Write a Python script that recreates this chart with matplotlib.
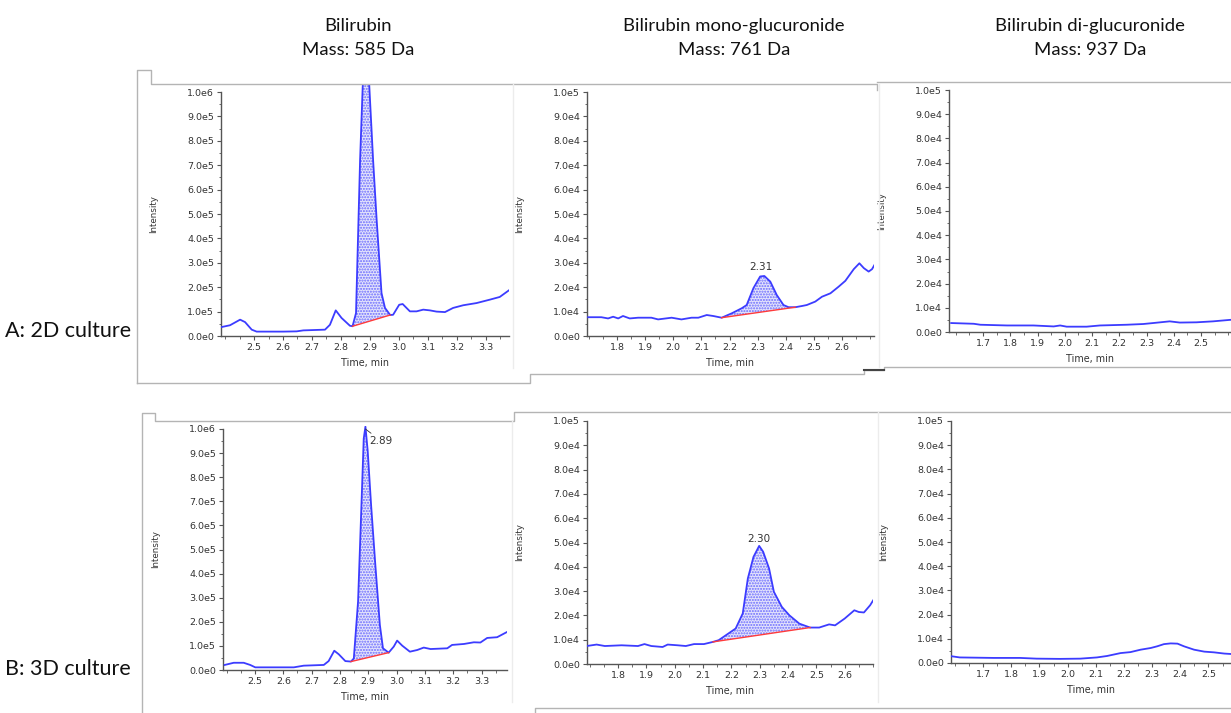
import math
import numpy as np
import matplotlib
matplotlib.use('Agg')
import matplotlib.pyplot as plt
from matplotlib.lines import Line2D
from matplotlib.ticker import FuncFormatter, MultipleLocator

FIG_W, FIG_H = 1231, 713

compound_names = ['Bilirubin', 'Bilirubin mono-glucuronide', 'Bilirubin di-glucuronide']
compound_masses = ['Mass: 585 Da', 'Mass: 761 Da', 'Mass: 937 Da']
conditions = ['A: 2D culture', 'B: 3D culture']

# --- A: 2D culture, bilirubin (intensity in 1e5) ---
a1_time = [2.385, 2.417, 2.452, 2.469, 2.492, 2.509, 2.55, 2.60, 2.647, 2.67, 2.745,
           2.762, 2.782, 2.802, 2.831, 2.840, 2.852, 2.866, 2.875, 2.888, 2.898, 2.911,
           2.923, 2.940, 2.952, 2.970, 2.980, 3.001, 3.013, 3.038, 3.061, 3.084, 3.107,
           3.13, 3.159, 3.187, 3.222, 3.268, 3.314, 3.348, 3.383]
a1_int = [0.36, 0.44, 0.67, 0.57, 0.26, 0.18, 0.18, 0.18, 0.19, 0.23, 0.26,
          0.46, 1.05, 0.74, 0.42, 0.40, 0.94, 7.2, 10.2, 13.0, 10.2, 7.2,
          4.8, 1.76, 1.15, 0.86, 0.87, 1.28, 1.31, 1.01, 1.01, 1.08, 1.05,
          1.0, 0.98, 1.15, 1.26, 1.35, 1.49, 1.6, 1.9]
a1_base_t = [2.840, 2.970]
a1_base_v = [0.40, 0.86]

# --- B: 3D culture, bilirubin (intensity in 1e5) ---
b1_time = [2.393, 2.425, 2.46, 2.483, 2.501, 2.55, 2.60, 2.637, 2.672, 2.743, 2.76,
           2.78, 2.796, 2.819, 2.839, 2.849, 2.864, 2.876, 2.884, 2.890, 2.898, 2.91,
           2.925, 2.941, 2.952, 2.972, 2.99, 3.002, 3.02, 3.047, 3.073, 3.096, 3.12,
           3.179, 3.196, 3.238, 3.273, 3.296, 3.32, 3.355, 3.397]
b1_int = [0.21, 0.30, 0.30, 0.21, 0.11, 0.11, 0.11, 0.11, 0.18, 0.21, 0.37,
          0.80, 0.65, 0.37, 0.35, 0.48, 2.84, 6.85, 9.6, 10.1, 9.1, 6.85,
          4.36, 1.87, 0.90, 0.72, 0.97, 1.22, 1.01, 0.76, 0.83, 0.93, 0.87,
          0.90, 1.04, 1.08, 1.15, 1.14, 1.33, 1.36, 1.62]
b1_base_t = [2.839, 2.972]
b1_base_v = [0.35, 0.72]

# --- A: 2D culture, mono-glucuronide (intensity in 1e4) ---
a2_time = [1.697, 1.744, 1.768, 1.786, 1.804, 1.821, 1.845, 1.875, 1.922, 1.946, 1.994,
           2.029, 2.065, 2.089, 2.119, 2.142, 2.172, 2.208, 2.244, 2.261, 2.285, 2.309,
           2.324, 2.345, 2.368, 2.392, 2.41, 2.434, 2.458, 2.475, 2.505, 2.529, 2.559,
           2.588, 2.612, 2.642, 2.662, 2.678, 2.695, 2.707, 2.719]
a2_int = [0.77, 0.77, 0.72, 0.79, 0.72, 0.82, 0.72, 0.75, 0.75, 0.68, 0.75,
          0.68, 0.75, 0.75, 0.86, 0.82, 0.75, 0.93, 1.14, 1.27, 1.96, 2.44,
          2.46, 2.23, 1.68, 1.27, 1.18, 1.18, 1.23, 1.27, 1.41, 1.61, 1.75,
          2.02, 2.26, 2.74, 2.98, 2.78, 2.64, 2.74, 2.98]
a2_base_t = [2.172, 2.434]
a2_base_v = [0.75, 1.18]

# --- B: 3D culture, mono-glucuronide (intensity in 1e4) ---
b2_time = [1.689, 1.724, 1.753, 1.812, 1.87, 1.893, 1.917, 1.957, 1.975, 2.01, 2.039,
           2.068, 2.103, 2.135, 2.155, 2.18, 2.215, 2.24, 2.258, 2.278, 2.298, 2.312,
           2.333, 2.35, 2.378, 2.405, 2.44, 2.478, 2.51, 2.545, 2.566, 2.60, 2.634,
           2.65, 2.668, 2.69, 2.706]
b2_int = [0.74, 0.80, 0.74, 0.77, 0.74, 0.82, 0.74, 0.70, 0.80, 0.77, 0.74,
          0.82, 0.82, 0.91, 0.98, 1.18, 1.46, 2.08, 3.52, 4.41, 4.86, 4.62,
          3.93, 2.97, 2.35, 2.0, 1.66, 1.50, 1.50, 1.63, 1.59, 1.87, 2.21,
          2.14, 2.12, 2.42, 2.72]
b2_base_t = [2.135, 2.478]
b2_base_v = [0.91, 1.50]

# --- A: 2D culture, di-glucuronide (intensity in 1e4) ---
a3_time = [1.583, 1.666, 1.69, 1.788, 1.885, 1.959, 1.983, 2.007, 2.08, 2.129,
           2.227, 2.288, 2.324, 2.385, 2.422, 2.483, 2.544, 2.605, 2.62]
a3_int = [0.37, 0.34, 0.30, 0.27, 0.27, 0.23, 0.27, 0.22, 0.22, 0.27,
          0.30, 0.33, 0.37, 0.44, 0.39, 0.40, 0.44, 0.50, 0.51]

# --- B: 3D culture, di-glucuronide (intensity in 1e4) ---
b3_time = [1.587, 1.617, 1.736, 1.831, 1.89, 1.973, 2.045, 2.104, 2.14, 2.188, 2.223,
           2.259, 2.295, 2.318, 2.342, 2.366, 2.39, 2.413, 2.449, 2.485, 2.52, 2.556,
           2.583, 2.60]
b3_int = [0.28, 0.23, 0.21, 0.21, 0.18, 0.17, 0.18, 0.23, 0.29, 0.41, 0.45,
          0.55, 0.62, 0.69, 0.78, 0.81, 0.80, 0.69, 0.55, 0.47, 0.44, 0.39,
          0.37, 0.36]

bili_ticks = [2.5, 2.6, 2.7, 2.8, 2.9, 3.0, 3.1, 3.2, 3.3]
mono_ticks = [1.8, 1.9, 2.0, 2.1, 2.2, 2.3, 2.4, 2.5, 2.6]
di_ticks = [1.7, 1.8, 1.9, 2.0, 2.1, 2.2, 2.3, 2.4, 2.5]

LINE_C = '#3c3cff'
BASE_C = '#ff3b3b'
FRAME_C = '#b4b4b4'


def sci_label(v, pos):
    '''Tick label in the 1.0e5 style of the instrument software.'''
    if abs(v) < 1e-9:
        return '0.0e0'
    exp = int(math.floor(math.log10(abs(v)) + 1e-9))
    return f'{v / 10 ** exp:.1f}e{exp}'


def add_panel(fig, box, time, inten, scale, xlim, xticks,
              base_t=None, base_v=None):
    '''
    Draw one chromatogram.

    box = (left, top_of_ymax_tick, right, bottom, extra_px) in pixels
    '''
    left, top, right, bottom, extra = box
    h = bottom - top + extra
    w = right - left
    ax = fig.add_axes([left / FIG_W, 1 - bottom / FIG_H, w / FIG_W, h / FIG_H])
    ymax = 10 * scale
    ax.set_ylim(0, ymax * h / (bottom - top))
    ax.set_xlim(*xlim)

    t = np.array(time)
    y = np.array(inten) * scale
    ax.plot(t, y, color=LINE_C, lw=1.3, zorder=3)

    if base_t is not None:
        m = (t >= base_t[0] - 1e-9) & (t <= base_t[1] + 1e-9)
        base_line = np.interp(t[m], base_t, np.array(base_v) * scale)
        ax.fill_between(t[m], y[m], base_line, facecolor='#e4e4fb',
                        edgecolor='#6a6aff', hatch='......', linewidth=0, zorder=2)
        ax.plot(base_t, np.array(base_v) * scale, color=BASE_C, lw=1.0, zorder=4)

    for s in ['top', 'right']:
        ax.spines[s].set_visible(False)
    for s in ['left', 'bottom']:
        ax.spines[s].set_color('#555555')
        ax.spines[s].set_linewidth(1.0)
    ax.spines['left'].set_bounds(0, ymax)

    ax.yaxis.set_major_locator(MultipleLocator(scale))
    ax.yaxis.set_minor_locator(MultipleLocator(scale / 2))
    ax.yaxis.set_major_formatter(FuncFormatter(sci_label))
    ax.set_xticks(xticks)
    ax.set_xticklabels([f'{v:.1f}' for v in xticks])
    ax.xaxis.set_minor_locator(MultipleLocator(0.05))

    ax.tick_params(which='major', direction='out', length=3, width=0.8,
                   labelsize=6.8, pad=2, colors='#555555', labelcolor='#333333')
    ax.tick_params(which='minor', direction='out', length=1.8, width=0.6,
                   colors='#555555')

    ax.set_ylabel('Intensity', fontsize=6.3, color='#333333')
    ax.yaxis.set_label_coords(-63 / w, (bottom - top) / 2 / h)
    ax.set_xlabel('Time, min', fontsize=6.9, color='#333333')
    ax.xaxis.label.set_va('center')
    ax.xaxis.set_label_coords(0.5, -27 / h)
    ax.patch.set_alpha(0)
    return ax


fig = plt.figure(figsize=(FIG_W / 100, FIG_H / 100), dpi=100)
fig.patch.set_facecolor('white')

# screenshot frames around the panels (pixel polylines)
frames_px = [
    [(137, 383), (137, 70), (151, 70), (151, 84), (877, 84), (877, 90)],
    [(137, 383), (530, 383), (530, 374), (864, 374), (864, 370), (884, 370),
     (884, 367), (1231, 367)],
    [(877, 82), (1231, 82)],
    [(142, 713), (142, 413), (155, 413), (155, 421), (514, 421), (514, 412),
     (1231, 412)],
    [(535, 713), (535, 708), (1231, 708)],
]
for pts in frames_px:
    xs = [p[0] / FIG_W for p in pts]
    ys = [1 - p[1] / FIG_H for p in pts]
    fig.add_artist(Line2D(xs, ys, color=FRAME_C, lw=1.0))

faint_px = [[(513, 84), (513, 368)], [(879, 84), (879, 367)],
            [(512, 421), (512, 702)], [(878, 412), (878, 702)]]
for pts in faint_px:
    xs = [p[0] / FIG_W for p in pts]
    ys = [1 - p[1] / FIG_H for p in pts]
    fig.add_artist(Line2D(xs, ys, color='#ececec', lw=1.0))
fig.add_artist(Line2D([864 / FIG_W, 884 / FIG_W], [1 - 370 / FIG_H] * 2,
                      color='#444444', lw=1.5))

ax_a1 = add_panel(fig, (221, 92, 509, 336, 8), a1_time, a1_int, 1e5,
                  (2.386, 3.38), bili_ticks, a1_base_t, a1_base_v)
ax_a2 = add_panel(fig, (587, 92, 874, 336, 3), a2_time, a2_int, 1e4,
                  (1.693, 2.714), mono_ticks, a2_base_t, a2_base_v)
ax_a3 = add_panel(fig, (949, 90, 1231, 332, 3), a3_time, a3_int, 1e4,
                  (1.575, 2.61), di_ticks)
ax_b1 = add_panel(fig, (223, 429, 507, 670, 3), b1_time, b1_int, 1e5,
                  (2.387, 3.39), bili_ticks, b1_base_t, b1_base_v)
ax_b2 = add_panel(fig, (587, 421, 873, 664, 3), b2_time, b2_int, 1e4,
                  (1.69, 2.70), mono_ticks, b2_base_t, b2_base_v)
ax_b3 = add_panel(fig, (951, 421, 1231, 663, 3), b3_time, b3_int, 1e4,
                  (1.586, 2.58), di_ticks)

# peak retention time labels
ax_a2.text(2.312, 2.82e4, '2.31', fontsize=7.5, color='#333333',
           ha='center', va='center')
ax_b2.text(2.298, 5.15e4, '2.30', fontsize=7.5, color='#333333',
           ha='center', va='center')
ax_b1.annotate('2.89', xy=(2.890, 10.0e5), xytext=(2.905, 9.5e5),
               fontsize=7.5, color='#333333', ha='left', va='center',
               arrowprops=dict(arrowstyle='-', color='#333333', lw=0.6,
                               shrinkA=0, shrinkB=0), annotation_clip=False)

head_x = [358, 734, 1090]
for x, name, mass in zip(head_x, compound_names, compound_masses):
    fig.text(x / FIG_W, 1 - 26 / FIG_H, name, family='Lato', fontsize=13.3,
             ha='center', va='center', color='#111111')
    fig.text(x / FIG_W, 1 - 50 / FIG_H, mass, family='Lato', fontsize=13.3,
             ha='center', va='center', color='#111111')

row_y = [331, 669]
for y, lab in zip(row_y, conditions):
    fig.text(5 / FIG_W, 1 - y / FIG_H, lab, family='Lato', fontsize=15.5,
             ha='left', va='center', color='#111111')

fig.savefig('out.png', dpi=100)
